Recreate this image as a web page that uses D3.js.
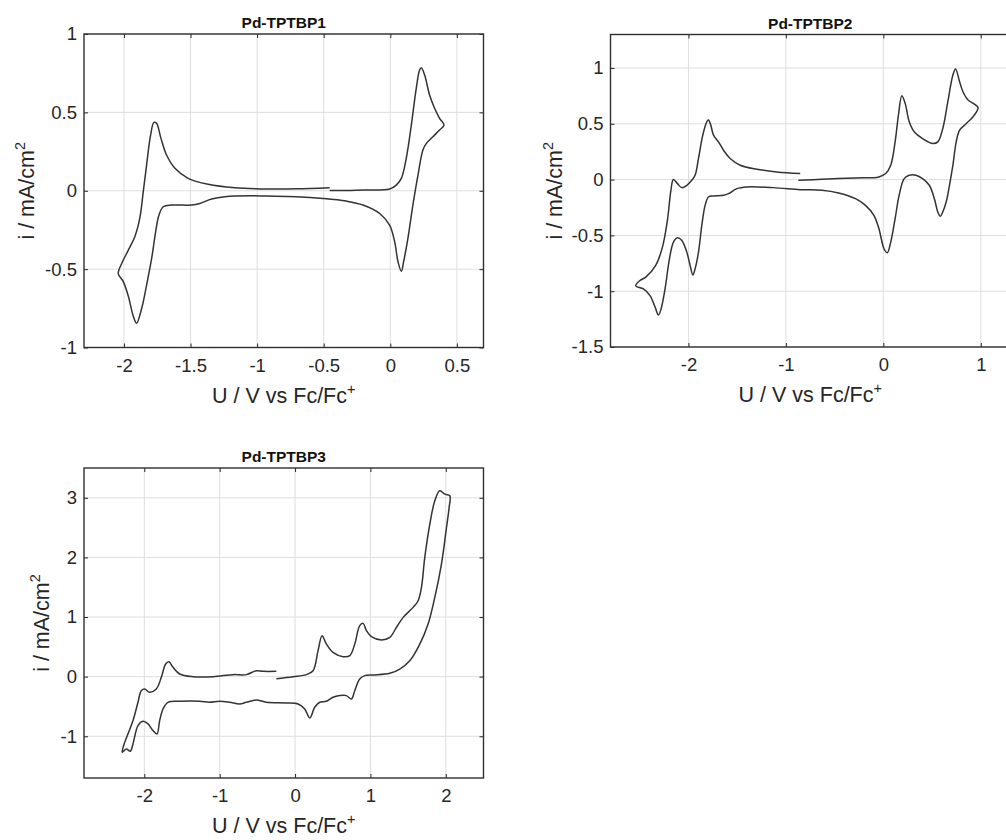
<!DOCTYPE html>
<html>
<head>
<meta charset="utf-8">
<script src="https://cdn.jsdelivr.net/npm/d3@7"></script>
<style>
  html, body { margin: 0; padding: 0; background: #fff; }
  svg { display: block; font-family: "Liberation Sans", Arial, Helvetica, sans-serif; }
</style>
</head>
<body>
<svg id="chart" width="1006" height="840"></svg>
<script>
// ---------- Data ----------
const titles = ["Pd-TPTBP1", "Pd-TPTBP2", "Pd-TPTBP3"];
const xAxisLabel = "U / V vs Fc/Fc";
const yAxisLabel = "i / mA/cm";

// Pd-TPTBP1: potential (V) and current density (mA/cm2), in scan order
const p1U = [-0.455, -0.3, -0.205, -0.005, 0.045, 0.083, 0.12, 0.158, 0.195, 0.22, 0.233, 0.258, 0.295, 0.333, 0.37, 0.403,
  0.37, 0.32, 0.271, 0.245, 0.208, 0.17, 0.133, 0.10, 0.083, 0.058, 0.033, -0.005, -0.08, -0.205, -0.33, -0.505, -0.705, -0.927,
  -1.042, -1.242, -1.342, -1.43, -1.492, -1.642, -1.705, -1.737, -1.762, -1.792, -1.83, -1.867, -1.905, -1.93, -1.968, -2.005, -2.043,
  -2.017, -1.968, -1.917, -1.88, -1.855, -1.83, -1.8, -1.775, -1.755, -1.722, -1.68, -1.617, -1.518, -1.368, -1.167, -0.917, -0.7, -0.455];
const p1I = [0.002, 0.002, 0.004, 0.011, 0.036, 0.079, 0.207, 0.419, 0.653, 0.77, 0.785, 0.738, 0.611, 0.526, 0.462, 0.419,
  0.387, 0.345, 0.302, 0.26, 0.10, -0.09, -0.30, -0.453, -0.513, -0.453, -0.326, -0.219, -0.145, -0.091, -0.066, -0.049, -0.038, -0.034,
  -0.032, -0.038, -0.053, -0.081, -0.091, -0.091, -0.102, -0.155, -0.262, -0.432, -0.602, -0.751, -0.845, -0.80, -0.67, -0.58, -0.528,
  -0.464, -0.38, -0.29, -0.17, -0.006, 0.164, 0.355, 0.436, 0.43, 0.334, 0.228, 0.143, 0.079, 0.041, 0.019, 0.011, 0.012, 0.019];

// Pd-TPTBP2
const p2U = [-0.872, -0.631, -0.286, -0.045, 0.024, 0.076, 0.121, 0.155, 0.19, 0.224, 0.266, 0.317, 0.403, 0.507, 0.559, 0.61, 0.662, 0.714, 0.741, 0.783, 0.817, 0.869, 0.938, 0.972,
  0.921, 0.852, 0.783, 0.748, 0.714, 0.679, 0.645, 0.61, 0.586, 0.559, 0.524, 0.472, 0.403, 0.334, 0.266, 0.214, 0.162, 0.121, 0.076, 0.041, 0.007, -0.045, -0.097, -0.183, -0.286, -0.459, -0.631, -0.853,
  -1.127, -1.40, -1.503, -1.589, -1.64, -1.743, -1.795, -1.829, -1.863, -1.897, -1.932, -1.955, -1.983, -2.017, -2.068, -2.113, -2.154, -2.195, -2.24, -2.281, -2.308, -2.342, -2.394, -2.462, -2.541,
  -2.497, -2.438, -2.336, -2.267, -2.216, -2.18, -2.155, -2.113, -2.068, -2.017, -1.966, -1.932, -1.897, -1.853, -1.812, -1.795, -1.771, -1.743, -1.692, -1.64, -1.572, -1.469, -1.298, -1.092, -0.853];
const p2I = [-0.006, 0.003, 0.015, 0.024, 0.054, 0.129, 0.338, 0.578, 0.751, 0.683, 0.518, 0.428, 0.368, 0.323, 0.338, 0.458, 0.698, 0.937, 0.991, 0.877, 0.787, 0.713, 0.674, 0.644,
  0.563, 0.503, 0.443, 0.338, 0.129, -0.051, -0.201, -0.29, -0.329, -0.29, -0.171, -0.051, 0.009, 0.039, 0.039, 0.009, -0.141, -0.350, -0.560, -0.656, -0.620, -0.440, -0.320, -0.231, -0.171, -0.120, -0.096, -0.09,
  -0.072, -0.066, -0.081, -0.126, -0.141, -0.147, -0.156, -0.231, -0.41, -0.65, -0.80, -0.855, -0.769, -0.65, -0.545, -0.521, -0.56, -0.71, -0.979, -1.159, -1.213, -1.144, -1.039, -0.979, -0.952,
  -0.904, -0.874, -0.769, -0.605, -0.365, -0.096, 0.0, -0.036, -0.072, -0.051, -0.006, 0.039, 0.189, 0.398, 0.518, 0.533, 0.488, 0.398, 0.338, 0.263, 0.189, 0.129, 0.093, 0.069, 0.054];

// Pd-TPTBP3
const p3U = [-0.248, -0.027, 0.15, 0.239, 0.305, 0.358, 0.416, 0.504, 0.637, 0.726, 0.792, 0.858, 0.903, 0.947, 1.013, 1.146, 1.257, 1.345, 1.434, 1.566, 1.633, 1.677, 1.721, 1.788, 1.854, 1.920, 1.987, 2.053,
  2.044, 2.009, 1.942, 1.854, 1.765, 1.655, 1.522, 1.389, 1.257, 1.035, 0.925, 0.858, 0.792, 0.748, 0.681, 0.593, 0.504, 0.416, 0.327, 0.261, 0.195, 0.128, 0.04, -0.115, -0.381, -0.513, -0.646, -0.735,
  -0.867, -1.0, -1.133, -1.265, -1.531, -1.686, -1.752, -1.796, -1.832, -1.885, -1.951, -2.018, -2.084, -2.150, -2.186, -2.239, -2.292,
  -2.274, -2.217, -2.150, -2.084, -2.040, -1.996, -1.929, -1.841, -1.774, -1.717, -1.673, -1.619, -1.531, -1.354, -1.088, -0.823, -0.646, -0.513, -0.425, -0.248];
const p3I = [-0.034, 0.0, 0.034, 0.1, 0.436, 0.687, 0.547, 0.408, 0.335, 0.352, 0.547, 0.855, 0.894, 0.771, 0.670, 0.615, 0.659, 0.827, 0.994, 1.162, 1.274, 1.497, 2.0, 2.559, 2.95, 3.117, 3.061, 3.034,
  2.838, 2.503, 1.888, 1.330, 0.883, 0.547, 0.268, 0.128, 0.056, 0.028, 0.017, -0.039, -0.235, -0.374, -0.318, -0.318, -0.346, -0.413, -0.430, -0.514, -0.693, -0.542, -0.458, -0.441, -0.430, -0.391, -0.430, -0.458,
  -0.430, -0.413, -0.430, -0.413, -0.413, -0.430, -0.542, -0.737, -0.961, -0.905, -0.793, -0.749, -0.821, -1.128, -1.251, -1.212, -1.268,
  -1.156, -0.961, -0.737, -0.430, -0.235, -0.207, -0.263, -0.207, -0.011, 0.212, 0.251, 0.156, 0.045, 0.0, 0.0, 0.034, 0.034, 0.1, 0.089, 0.089];

// Tick values
const p1XTicks = [-2, -1.5, -1, -0.5, 0, 0.5];
const p1YTicks = [-1, -0.5, 0, 0.5, 1];
const p2XTicks = [-2, -1, 0, 1];
const p2YTicks = [-1.5, -1, -0.5, 0, 0.5, 1];
const p3XTicks = [-2, -1, 0, 1, 2];
const p3YTicks = [-1, 0, 1, 2, 3];

// ---------- Layout ----------
const panels = [
  { title: titles[0], U: p1U, I: p1I, xt: p1XTicks, yt: p1YTicks, xd: [-2.3, 0.7], yd: [-1, 1],
    left: 84, top: 34, w: 399.5, h: 313.5, ylx: 34 },
  { title: titles[1], U: p2U, I: p2I, xt: p2XTicks, yt: p2YTicks, xd: [-2.8, 1.3], yd: [-1.5, 1.3],
    left: 610.5, top: 34.5, w: 399.5, h: 312.5, ylx: 562 },
  { title: titles[2], U: p3U, I: p3I, xt: p3XTicks, yt: p3YTicks, xd: [-2.8, 2.5], yd: [-1.7, 3.5],
    left: 84, top: 468, w: 399.5, h: 310, ylx: 49 }
];

const svg = d3.select("#chart");
const textColor = "#262626";
const tickFS = 18.5, labelFS = 21.5, titleFS = 15.5, supFS = 14.5;

panels.forEach(p => {
  const x = d3.scaleLinear().domain(p.xd).range([p.left, p.left + p.w]);
  const y = d3.scaleLinear().domain(p.yd).range([p.top + p.h, p.top]);
  const g = svg.append("g");

  // grid
  g.append("g").selectAll("line").data(p.xt).join("line")
    .attr("x1", d => x(d)).attr("x2", d => x(d))
    .attr("y1", p.top).attr("y2", p.top + p.h)
    .attr("stroke", "#dedede").attr("stroke-width", 1);
  g.append("g").selectAll("line").data(p.yt).join("line")
    .attr("x1", p.left).attr("x2", p.left + p.w)
    .attr("y1", d => y(d)).attr("y2", d => y(d))
    .attr("stroke", "#dedede").attr("stroke-width", 1);

  // curve
  const pts = p.U.map((u, i) => [u, p.I[i]]);
  const line = d3.line().x(d => x(d[0])).y(d => y(d[1])).curve(d3.curveCatmullRom.alpha(0.5));
  g.append("path").datum(pts).attr("d", line)
    .attr("fill", "none").attr("stroke", "#333").attr("stroke-width", 1.5)
    .attr("stroke-linejoin", "round");

  // axes
  const fmt = d => String(d);
  const bottom = g.append("g").attr("transform", `translate(0,${p.top + p.h})`)
    .call(d3.axisBottom(x).tickValues(p.xt).tickFormat(fmt).tickSizeInner(-4).tickSizeOuter(0).tickPadding(11));
  const leftAx = g.append("g").attr("transform", `translate(${p.left},0)`)
    .call(d3.axisLeft(y).tickValues(p.yt).tickFormat(fmt).tickSizeInner(-4).tickSizeOuter(0).tickPadding(7));
  const top = g.append("g").attr("transform", `translate(0,${p.top})`)
    .call(d3.axisTop(x).tickValues(p.xt).tickFormat("").tickSizeInner(-4).tickSizeOuter(0));
  const right = g.append("g").attr("transform", `translate(${p.left + p.w},0)`)
    .call(d3.axisRight(y).tickValues(p.yt).tickFormat("").tickSizeInner(-4).tickSizeOuter(0));
  [bottom, leftAx, top, right].forEach(a => {
    a.select(".domain").remove();
    a.selectAll(".tick line").attr("stroke", "#262626").attr("stroke-width", 1);
    a.selectAll("text").attr("fill", textColor).style("font-size", tickFS + "px")
      .style("font-family", '"Liberation Sans", Arial, sans-serif');
  });

  // box
  g.append("rect").attr("x", p.left).attr("y", p.top).attr("width", p.w).attr("height", p.h)
    .attr("fill", "none").attr("stroke", "#303030").attr("stroke-width", 1.4);

  // title
  g.append("text").attr("x", p.left + p.w / 2).attr("y", p.top - 6)
    .attr("text-anchor", "middle").attr("font-weight", "bold").attr("font-size", titleFS)
    .attr("fill", "#111").text(p.title);

  // x label
  const xl = g.append("text").attr("x", p.left + p.w / 2).attr("y", p.top + p.h + 55)
    .attr("text-anchor", "middle").attr("font-size", labelFS).attr("fill", textColor);
  xl.append("tspan").text(xAxisLabel);
  xl.append("tspan").attr("dy", -9).attr("font-size", supFS).text("+");

  // y label
  const cy = p.top + p.h / 2;
  const yl = g.append("text").attr("transform", `translate(${p.ylx},${cy}) rotate(-90)`)
    .attr("text-anchor", "middle").attr("font-size", labelFS).attr("fill", textColor);
  yl.append("tspan").text(yAxisLabel);
  yl.append("tspan").attr("dy", -9).attr("font-size", supFS).text("2");
});
</script>
</body>
</html>
